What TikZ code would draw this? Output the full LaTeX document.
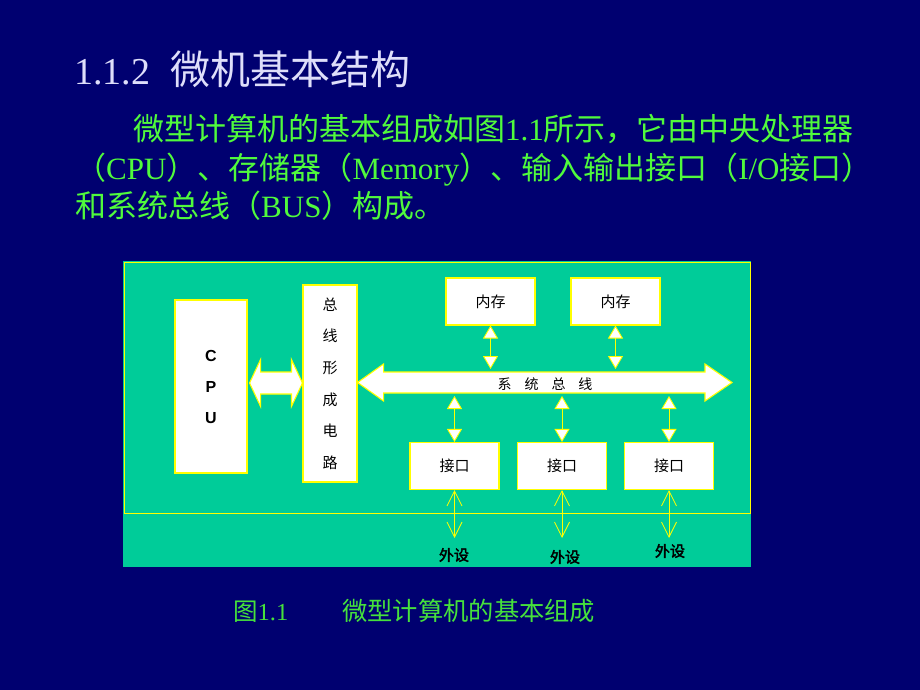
\documentclass[tikz,border=0pt]{standalone}
\usepackage{fontspec}
\setmainfont{Liberation Serif}
\newfontfamily\cjk{Noto Sans CJK SC}
\newfontfamily\cjkb[FakeBold=2.5]{Noto Sans CJK SC}
\newfontfamily\lsans{Liberation Sans}
\usetikzlibrary{arrows.meta,calc}
\definecolor{navy}{RGB}{0,0,112}
\definecolor{teal}{RGB}{0,204,153}
\definecolor{ylw}{RGB}{255,255,0}
\definecolor{grn}{RGB}{80,250,60}
\definecolor{capgrn}{RGB}{70,225,60}
\definecolor{lav}{RGB}{222,222,250}
\tikzset{
  x=1pt, y=-1pt,
  whitebox/.style={draw=ylw, fill=white, line width=1.1pt, inner sep=0pt},
  bigarrow/.style={draw=ylw, fill=white, line width=1.1pt, line join=miter},
  busline/.style={draw=ylw, line width=0.9pt,
     {Triangle[width=15pt,length=13pt,fill=white]}-{Triangle[width=15pt,length=13pt,fill=white]}},
  periline/.style={draw=ylw, line width=0.8pt,
     {Straight Barb[width=15pt,length=15pt]}-{Straight Barb[width=15pt,length=15pt]}},
  paratext/.style={anchor=base west, inner sep=0pt, text=grn, font=\fontsize{31}{31}\selectfont},
  smallcjk/.style={font=\cjk\fontsize{15}{15}\selectfont},
  perilabel/.style={font=\cjkb\fontsize{15}{15}\selectfont, text=black, inner sep=0pt},
}
\begin{document}
\begin{tikzpicture}
\fill[navy] (0,0) rectangle (920,690);
\useasboundingbox (0,0) rectangle (920,690);

% title and paragraph
\node[anchor=base west, inner sep=0pt, text=lav] (title) at (74,85)
  {\fontsize{38}{38}\selectfont 1.1.2\hspace{20pt}{\cjk\fontsize{40}{40}\selectfont 微机基本结构}};
\node[paratext] (l1) at (133,140)
  {{\cjk 微型计算机的基本组成如图}1.1{\cjk 所示，它由中央处理器}};
\node[paratext] (l2) at (75,179)
  {{\cjk （}CPU{\cjk ）、存储器（}Memory{\cjk ）、输入输出接口（}I/O{\cjk 接口）}};
\node[paratext] (l3) at (75,217)
  {{\cjk 和系统总线（}BUS{\cjk ）构成。}};

% panel
\fill[teal] (123,261) rectangle (751,567);
\draw[ylw, line width=0.9pt] (124,262) rectangle (750,513);

% boxes
\node[whitebox, minimum width=72pt, minimum height=173pt,
      align=center, font=\lsans\bfseries\fontsize{16}{31}\selectfont] (cpu) at (211,386.5)
  {C\\P\\U};
\node[whitebox, minimum width=54pt, minimum height=197pt,
      align=center, font=\cjk\fontsize{15}{31.6}\selectfont] (bfc) at (330,383.5)
  {总\\线\\形\\成\\电\\路};
\node[whitebox, smallcjk, minimum width=89pt, minimum height=47pt] (mem1) at (490.5,301.5) {内存};
\node[whitebox, smallcjk, minimum width=89pt, minimum height=47pt] (mem2) at (615.5,301.5) {内存};
\node[whitebox, smallcjk, minimum width=89pt, minimum height=47pt] (io1) at (454.5,466) {接口};
\node[whitebox, smallcjk, minimum width=89pt, minimum height=47pt] (io2) at (562,466) {接口};
\node[whitebox, smallcjk, minimum width=89pt, minimum height=47pt] (io3) at (669,466) {接口};

% CPU <-> bus formation arrow
\coordinate (ca) at ($(cpu.east)+(2,-3.5)$);
\coordinate (cb) at ($(bfc.west)+(0,-0.5)$);
\filldraw[bigarrow]
  (ca) -- ++(11,-23.5) -- ++(0,12.5) coordinate (t1)
  -- ($(cb)+(-11,-11)$) -- ++(0,-12.5) -- (cb) -- ++(-11,23.5) -- ++(0,-12.5)
  -- ($(ca)+(11,11)$) -- ++(0,12.5) -- cycle;

% system bus arrow
\coordinate (bl) at ($(bfc.east)+(0,-1)$);
\coordinate (br) at (732,382.5);
\filldraw[bigarrow]
  (bl) -- ++(26,-18.5) -- ++(0,8) -- ($(br)+(-27,-10.5)$) -- ++(0,-8) -- (br)
  -- ++(-27,18.5) -- ++(0,-8) -- ($(bl)+(26,10.5)$) -- ++(0,8) -- cycle;
\node[font=\cjk\fontsize{14}{14}\selectfont, inner sep=0pt] (bus) at (545,384)
  {系\hspace{13pt}统\hspace{13pt}总\hspace{13pt}线};

% memory <-> bus
\draw[busline] (mem1.south) -- (mem1.south |- 0,369);
\draw[busline] (mem2.south) -- (mem2.south |- 0,369);
% bus <-> interfaces
\draw[busline] (io1.north |- 0,396) -- (io1.north);
\draw[busline] (io2.north |- 0,396) -- (io2.north);
\draw[busline] (io3.north |- 0,396) -- (io3.north);

% peripherals
\coordinate (p1) at (454.5,538);
\coordinate (p2) at (562,538);
\coordinate (p3) at (669,538);
\draw[periline] (io1.south) -- (p1);
\draw[periline] (io2.south) -- (p2);
\draw[periline] (io3.south) -- (p3);
\node[perilabel] (w1) at (454,555) {外设};
\node[perilabel] (w2) at (565,557) {外设};
\node[perilabel] (w3) at (670,551) {外设};

% caption
\node[anchor=base west, inner sep=0pt, text=capgrn, font=\fontsize{24.5}{25}\selectfont] (cap1) at (233,620)
  {{\cjk 图}1.1};
\node[anchor=base west, inner sep=0pt, text=capgrn, font=\cjk\fontsize{25.3}{25}\selectfont] (cap2) at (342,620)
  {微型计算机的基本组成};
\end{tikzpicture}
\end{document}
